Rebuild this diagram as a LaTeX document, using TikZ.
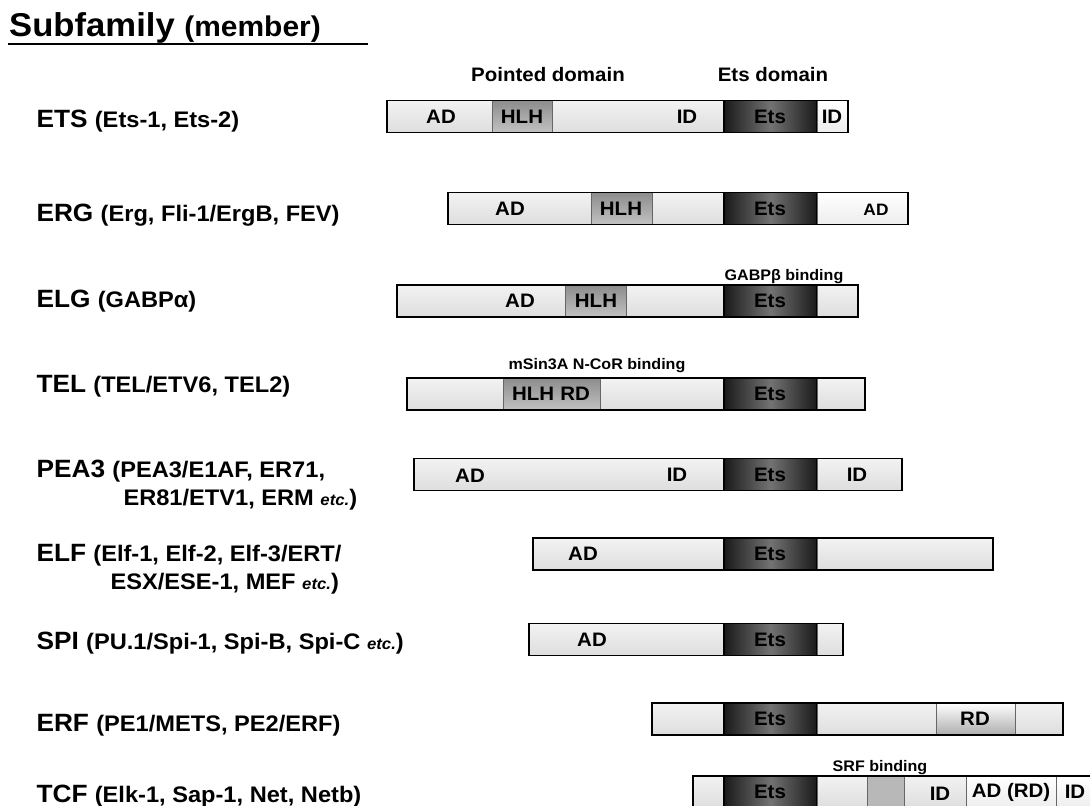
\documentclass[tikz,border=0pt]{standalone}
\usepackage{fontspec}
\setmainfont[FakeStretch=1.05]{Liberation Sans}
\usetikzlibrary{positioning}

% one domain of a bar: style, name, left x, right x, centre y
\newcommand{\seg}[5]{%
  \node[segment, #1, minimum width={(#4-#3)*1pt}] (#2) at ({(#3+#4)/2}, #5) {};}
\newcommand{\memb}{\fontsize{22.5}{26}\selectfont}
\newcommand{\etcnote}{{\fontsize{16}{18}\selectfont\itshape etc.}}

\begin{document}
\begin{tikzpicture}[x=1pt, y=-1pt,
    segment/.style={rectangle, inner sep=0pt, outer sep=0pt, minimum height=32pt,
                    draw=black!60, line width=0.6pt},
    light/.style={top color=black!5, bottom color=black!13},
    pale/.style={top color=white, bottom color=black!7},
    etsbox/.style={left color=black!90, right color=black!90, middle color=black!55,
                   draw=black, line width=1.2pt},
    hlh/.style={top color=black!45, bottom color=black!24},
    rdbox/.style={top color=white, bottom color=black!32},
    srfbox/.style={fill=black!28},
    frame/.style={draw=black, line width=1.3pt},
    dom/.style={font=\fontsize{19.5}{22}\selectfont\bfseries},
    note/.style={font=\fontsize{15.3}{17}\selectfont\bfseries},
    fam/.style={anchor=base west, font=\fontsize{25}{28}\selectfont\bfseries}
]
\useasboundingbox (0,0) rectangle (1090,806);
\clip (0,0) rectangle (1090,806);
\fill[white] (0,0) rectangle (1090,806);

\node[anchor=base west, inner sep=0pt, font=\fontsize{33}{36}\selectfont\bfseries] (title) at (9,36)
    {Subfamily {\fontsize{28.5}{32}\selectfont (member)}};
\coordinate (ulstart) at (8,44);
\coordinate (ulend) at (368,44);
\draw[line width=1.6pt] (ulstart) -- (ulend);

\node[dom] (pointed) at (548,75) {Pointed domain};
\node[dom] (etsdomain) at (773,75) {Ets domain};

% ETS
\node[fam] (etsfam) at (33,127) {ETS {\memb (Ets-1, Ets-2)}};
\seg{light}{etsA}{387}{492}{116.5}
\seg{hlh}{etsB}{492}{552}{116.5}
\seg{light}{etsC}{552}{724}{116.5}
\seg{etsbox}{etsD}{724}{817}{116.5}
\seg{pale}{etsE}{817}{848}{116.5}
\draw[frame] (etsA.north west) rectangle (etsE.south east);
\node[dom] (etsAD) at (441,116.5) {AD};
\node[dom] (etsHLH) at (522,116.5) {HLH};
\node[dom] (etsID) at (687,116.5) {ID};
\node[dom] (etsEts) at (770,116.5) {Ets};
\node[dom] (etsID2) at (832,116.5) {ID};

% ERG
\node[fam] (ergfam) at (33,221) {ERG {\memb (Erg, Fli-1/ErgB, FEV)}};
\seg{light}{ergA}{448}{591}{208.5}
\seg{hlh}{ergB}{591}{652}{208.5}
\seg{light}{ergC}{652}{724}{208.5}
\seg{etsbox}{ergD}{724}{817}{208.5}
\seg{pale}{ergE}{817}{908}{208.5}
\draw[frame] (ergA.north west) rectangle (ergE.south east);
\node[dom] (ergAD) at (510,208.5) {AD};
\node[dom] (ergHLH) at (621,208.5) {HLH};
\node[dom] (ergEts) at (770,208.5) {Ets};
\node[dom, font=\fontsize{16.5}{18}\selectfont\bfseries] (ergAD2) at (876,209.5) {AD};

% ELG
\node[fam] (elgfam) at (33,307) {ELG {\memb (GABPα)}};
\seg{light}{elgA}{397}{565}{301}
\seg{hlh}{elgB}{565}{626}{301}
\seg{light}{elgC}{626}{724}{301}
\seg{etsbox}{elgD}{724}{817}{301}
\seg{light}{elgE}{817}{858}{301}
\draw[frame] (elgA.north west) rectangle (elgE.south east);
\node[dom] (elgAD) at (520,301) {AD};
\node[dom] (elgHLH) at (596,301) {HLH};
\node[dom] (elgEts) at (770,301) {Ets};
\node[note] (gabpb) at (784,277) {GABPβ binding};

% TEL
\node[fam] (telfam) at (33,392) {TEL {\memb (TEL/ETV6, TEL2)}};
\seg{light}{telA}{407}{503}{394}
\seg{hlh}{telB}{503}{600}{394}
\seg{light}{telC}{600}{724}{394}
\seg{etsbox}{telD}{724}{817}{394}
\seg{light}{telE}{817}{865}{394}
\draw[frame] (telA.north west) rectangle (telE.south east);
\node[dom] (telHLH) at (551,394) {HLH\hspace{6pt}RD};
\node[dom] (telEts) at (770,394) {Ets};
\node[note] (msin) at (597,366) {mSin3A N-CoR binding};

% PEA3
\node[fam] (peafam) at (33,477) {PEA3 {\memb (PEA3/E1AF, ER71,}};
\node[fam, font=\memb\bfseries] (peafam2) at (120,505) {ER81/ETV1, ERM \etcnote)};
\seg{light}{peaA}{414}{724}{474.5}
\seg{etsbox}{peaB}{724}{817}{474.5}
\seg{light}{peaC}{817}{902}{474.5}
\draw[frame] (peaA.north west) rectangle (peaC.south east);
\node[dom] (peaAD) at (470,476) {AD};
\node[dom] (peaID) at (677,474.5) {ID};
\node[dom] (peaEts) at (770,474.5) {Ets};
\node[dom] (peaID2) at (857,474.5) {ID};

% ELF
\node[fam] (elffam) at (33,561) {ELF {\memb (Elf-1, Elf-2, Elf-3/ERT/}};
\node[fam, font=\memb\bfseries] (elffam2) at (107,589) {ESX/ESE-1, MEF \etcnote)};
\seg{light}{elfA}{533}{724}{554}
\seg{etsbox}{elfB}{724}{817}{554}
\seg{light}{elfC}{817}{993}{554}
\draw[frame] (elfA.north west) rectangle (elfC.south east);
\node[dom] (elfAD) at (583,554) {AD};
\node[dom] (elfEts) at (770,554) {Ets};

% SPI
\node[fam] (spifam) at (33,649) {SPI {\memb (PU.1/Spi-1, Spi-B, Spi-C \etcnote)}};
\seg{light}{spiA}{529}{724}{639.5}
\seg{etsbox}{spiB}{724}{817}{639.5}
\seg{light}{spiC}{817}{843}{639.5}
\draw[frame] (spiA.north west) rectangle (spiC.south east);
\node[dom] (spiAD) at (592,639.5) {AD};
\node[dom] (spiEts) at (770,639.5) {Ets};

% ERF
\node[fam] (erffam) at (33,731) {ERF {\memb (PE1/METS, PE2/ERF)}};
\seg{light}{erfA}{652}{724}{719}
\seg{etsbox}{erfB}{724}{817}{719}
\seg{light}{erfC}{817}{936}{719}
\seg{rdbox}{erfD}{936}{1015}{719}
\seg{light}{erfE}{1015}{1063}{719}
\draw[frame] (erfA.north west) rectangle (erfE.south east);
\node[dom] (erfEts) at (770,719) {Ets};
\node[dom] (erfRD) at (975,719) {RD};

% TCF
\node[fam] (tcffam) at (33,802) {TCF {\memb (Elk-1, Sap-1, Net, Netb)}};
\seg{light}{tcfA}{693}{724}{792}
\seg{etsbox}{tcfB}{724}{817}{792}
\seg{light}{tcfC}{817}{867}{792}
\seg{srfbox}{tcfD}{867}{904}{792}
\seg{light}{tcfE}{904}{966}{792}
\seg{pale}{tcfF}{966}{1056}{792}
\seg{pale}{tcfG}{1056}{1100}{792}
\draw[frame] (tcfA.north west) rectangle (tcfG.south east);
\node[dom] (tcfEts) at (770,792) {Ets};
\node[dom] (tcfID) at (940,794) {ID};
\node[dom] (tcfAD) at (1011,792) {AD (RD)};
\node[dom] (tcfID2) at (1075,792) {ID};
\node[note] (srf) at (880,768) {SRF binding};
\end{tikzpicture}
\end{document}
